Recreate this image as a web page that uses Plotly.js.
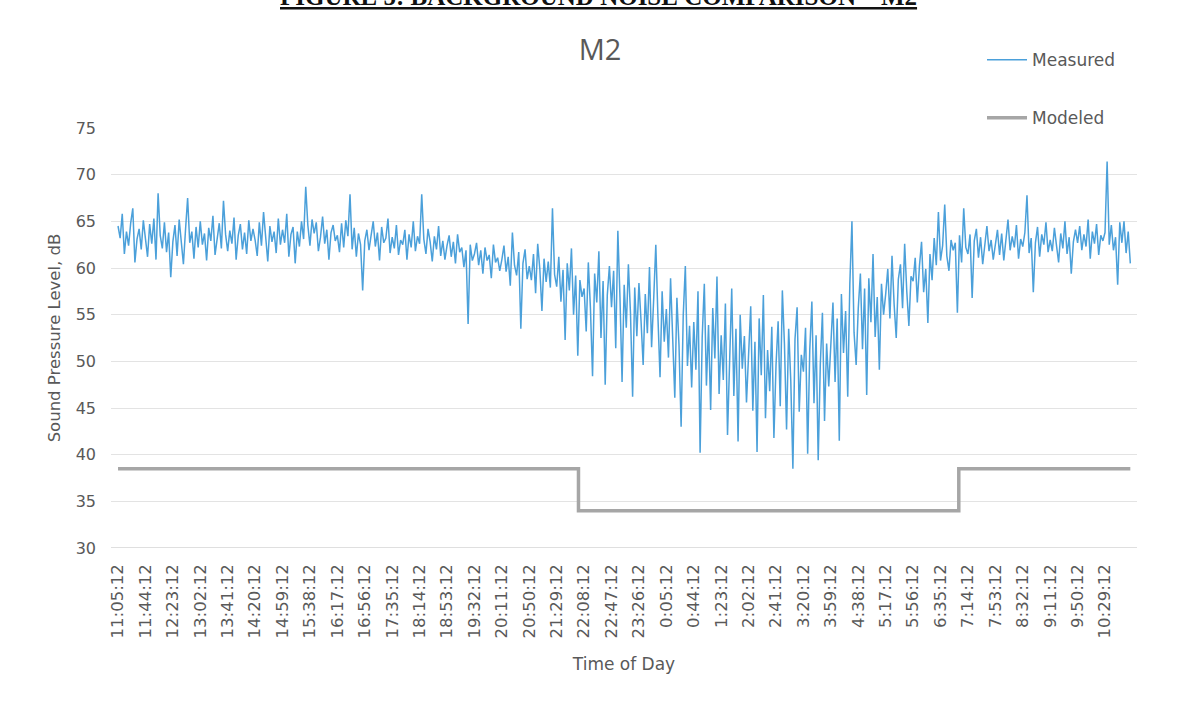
<!DOCTYPE html>
<html>
<head>
<meta charset="utf-8">
<script src="https://cdn.plot.ly/plotly-3.0.1.min.js"></script>
<style>html,body{margin:0;padding:0;background:#fff;overflow:hidden}#chart{width:1186px;height:715px}</style>
</head>
<body>
<div id="chart"></div>
<script>
// Tick labels (every 39 minutes from 11:05:12)
const tickLabels = ["11:05:12","11:44:12","12:23:12","13:02:12","13:41:12","14:20:12","14:59:12","15:38:12","16:17:12","16:56:12","17:35:12","18:14:12","18:53:12","19:32:12","20:11:12","20:50:12","21:29:12","22:08:12","22:47:12","23:26:12","0:05:12","0:44:12","1:23:12","2:02:12","2:41:12","3:20:12","3:59:12","4:38:12","5:17:12","5:56:12","6:35:12","7:14:12","7:53:12","8:32:12","9:11:12","9:50:12","10:29:12"];
const tickStepMin = 39;
const sampleStepMin = 3;

// Measured sound pressure level, dB (3-minute samples)
const measured = [
64.5,63.2,65.8,61.5,63.9,62.4,64.8,66.4,60.6,63.1,64.2,62.0,65.1,
63.4,61.2,64.7,62.6,65.3,60.9,68.0,63.5,62.1,64.9,61.7,63.8,59.0,
62.8,64.6,61.3,65.2,63.0,60.4,64.1,67.5,62.7,63.9,61.0,64.4,62.2,
65.0,62.5,63.7,60.8,64.3,62.9,65.6,61.4,63.2,64.8,62.1,67.2,63.6,
61.8,64.0,62.6,65.4,60.9,63.5,64.7,62.0,63.8,61.5,65.1,62.9,64.2,
63.0,61.3,64.9,62.4,66.0,63.3,60.7,64.5,62.8,63.9,61.6,65.3,62.5,
64.1,62.7,65.8,61.2,63.6,64.4,60.5,63.9,62.3,65.0,63.1,68.7,64.6,
62.4,65.2,63.7,64.9,61.8,63.3,65.5,62.6,64.1,60.9,63.8,64.6,62.9,
63.5,61.7,64.8,62.2,65.1,63.4,67.9,62.0,64.3,61.2,63.7,62.5,57.6,
62.9,64.1,61.9,63.5,65.0,62.3,63.8,60.8,64.4,62.7,63.2,65.3,61.6,
63.3,62.1,64.6,61.4,63.0,62.5,64.1,60.9,63.6,62.2,65.0,61.8,63.4,
62.6,67.9,63.1,61.5,64.2,62.8,60.7,63.4,62.0,64.5,61.3,62.9,60.9,
62.4,63.5,61.2,62.8,60.5,63.6,61.7,62.2,60.1,61.9,54.0,62.5,60.8,
61.5,62.7,60.3,61.9,59.4,62.2,60.8,61.4,58.9,62.5,60.6,61.1,59.7,
60.9,62.4,59.6,61.2,58.1,63.8,60.3,59.2,61.7,53.5,60.5,62.0,58.8,
60.2,58.7,61.5,57.3,62.6,59.9,55.4,61.0,58.5,60.7,57.9,66.4,59.3,
58.0,61.2,56.4,59.8,52.3,60.5,57.6,62.1,55.0,59.2,50.6,58.7,56.9,
57.8,53.2,60.6,55.7,48.4,59.4,56.3,61.8,52.5,58.6,47.5,57.1,60.2,
55.8,59.7,51.4,64.0,56.9,47.8,58.2,53.6,60.4,55.1,46.2,57.9,52.7,
58.4,54.3,49.6,57.2,53.0,60.1,51.5,56.7,62.5,54.8,48.3,57.5,52.1,
55.6,50.4,58.9,53.3,46.1,56.8,51.7,43.0,54.9,60.2,49.5,53.8,47.2,
54.2,49.1,57.5,40.2,52.6,58.3,47.4,53.9,44.8,55.7,50.3,59.1,46.5,
52.8,48.0,56.2,42.1,51.4,57.8,46.3,53.5,41.4,55.0,49.2,52.7,45.6,
50.3,55.9,44.7,52.1,40.3,54.6,48.5,57.1,43.9,51.2,46.8,53.7,41.8,
49.6,54.3,45.2,57.6,51.8,42.7,53.5,47.9,38.5,52.4,55.8,44.6,50.7,
48.9,53.6,40.1,51.2,56.4,45.5,52.8,39.4,49.7,55.2,43.6,51.9,47.3,
52.1,56.3,47.8,54.6,41.5,57.2,50.9,55.4,46.2,58.3,65.0,53.1,49.6,
55.7,59.4,51.3,57.8,46.4,58.9,54.2,61.5,52.6,56.9,49.1,58.3,55.0,
57.2,59.9,54.6,61.3,56.1,52.5,58.8,60.4,55.7,62.6,57.5,53.8,59.1,
58.6,61.1,56.3,60.2,62.8,57.4,59.9,54.1,61.5,58.7,63.2,60.3,66.0,
60.8,62.4,66.8,61.3,59.7,63.0,61.9,62.7,55.2,63.5,60.6,66.4,62.2,
61.5,63.6,56.8,62.9,64.2,61.1,63.3,60.4,62.7,64.5,61.8,63.0,60.9,
62.6,64.1,61.4,63.7,60.8,62.9,65.2,61.9,63.4,62.2,64.6,61.0,63.1,
62.3,63.8,67.8,61.6,63.2,57.4,62.7,64.4,61.2,63.6,62.5,64.9,61.7,
63.0,61.8,64.3,62.4,60.6,63.7,62.1,65.0,61.5,63.3,59.4,62.8,64.1,
62.7,64.5,61.9,63.6,62.3,65.2,61.0,63.9,62.6,64.7,61.4,63.5,62.9,
63.8,71.4,62.5,64.6,61.9,63.3,58.2,64.9,62.7,65.0,61.6,63.9,60.5
];

// Modeled level: step changes (minutes after 11:05:12)
const modeledMinutes = [0, 655, 1196, 1440];
const modeledValues = [38.5, 34, 38.5, 38.5];

const measuredX = measured.map((_, i) => i * sampleStepMin);
const tickVals = tickLabels.map((_, i) => i * tickStepMin);

const grey = '#595959';
const sans = 'DejaVu Sans, sans-serif';
const traces = [
  {x: measuredX, y: measured, type: 'scatter', mode: 'lines', name: 'Measured',
   legendgroup: 'a', line: {color: '#4ba0da', width: 1.5}},
  {x: modeledMinutes, y: modeledValues, type: 'scatter', mode: 'lines', name: 'Modeled',
   legendgroup: 'b', line: {color: '#a6a6a6', width: 3.5, shape: 'hv'}}
];

const layout = {
  width: 1186, height: 715,
  paper_bgcolor: '#ffffff', plot_bgcolor: '#ffffff',
  margin: {l: 111, r: 49, t: 128, b: 167, autoexpand: false},
  font: {family: sans, color: grey},
  title: {text: 'M2', font: {family: 'Open Sans, sans-serif', size: 29, color: grey}, x: 0.506, xanchor: 'center',
          yref: 'container', y: 0.93, yanchor: 'middle'},
  showlegend: true,
  legend: {xref: 'container', yref: 'container', x: 0.828, y: 0.941, xanchor: 'left', yanchor: 'top',
           font: {family: sans, size: 17, color: grey}, tracegroupgap: 33, traceorder: 'grouped',
           bgcolor: 'rgba(0,0,0,0)', itemwidth: 40},
  xaxis: {range: [-10, 1449.5], tickmode: 'array', tickvals: tickVals, ticktext: tickLabels,
          tickangle: -90, tickfont: {family: sans, size: 16.5, color: grey}, showgrid: false, zeroline: false,
          showline: false, ticks: '', ticklabelstandoff: 12,
          title: {text: 'Time of Day', font: {family: sans, size: 17, color: grey}, standoff: 20}},
  yaxis: {range: [30, 75], tickvals: [30,35,40,45,50,55,60,65,70,75], tickfont: {family: sans, size: 16, color: grey},
          showgrid: true, gridcolor: '#e3e3e3', gridwidth: 1, zeroline: false, showline: false,
          ticks: '', ticklabelstandoff: 14,
          title: {text: 'Sound Pressure Level, dB', font: {family: sans, size: 16.5, color: grey}, standoff: 10}},
  shapes: [{type: 'line', xref: 'paper', yref: 'y', x0: 0, x1: 1, y0: 30, y1: 30,
            line: {color: '#d4d4d4', width: 1.5}}],
  annotations: [{xref: 'paper', yref: 'paper', x: 0.475, y: 1.314, xanchor: 'center', yanchor: 'middle',
                 showarrow: false, text: '<b><u>FIGURE 5: BACKGROUND NOISE COMPARISON – M2</u></b>',
                 font: {family: 'Liberation Serif, serif', size: 25, color: '#111'}}]
};

Plotly.newPlot('chart', traces, layout, {staticPlot: true, displayModeBar: false});
</script>
</body>
</html>
